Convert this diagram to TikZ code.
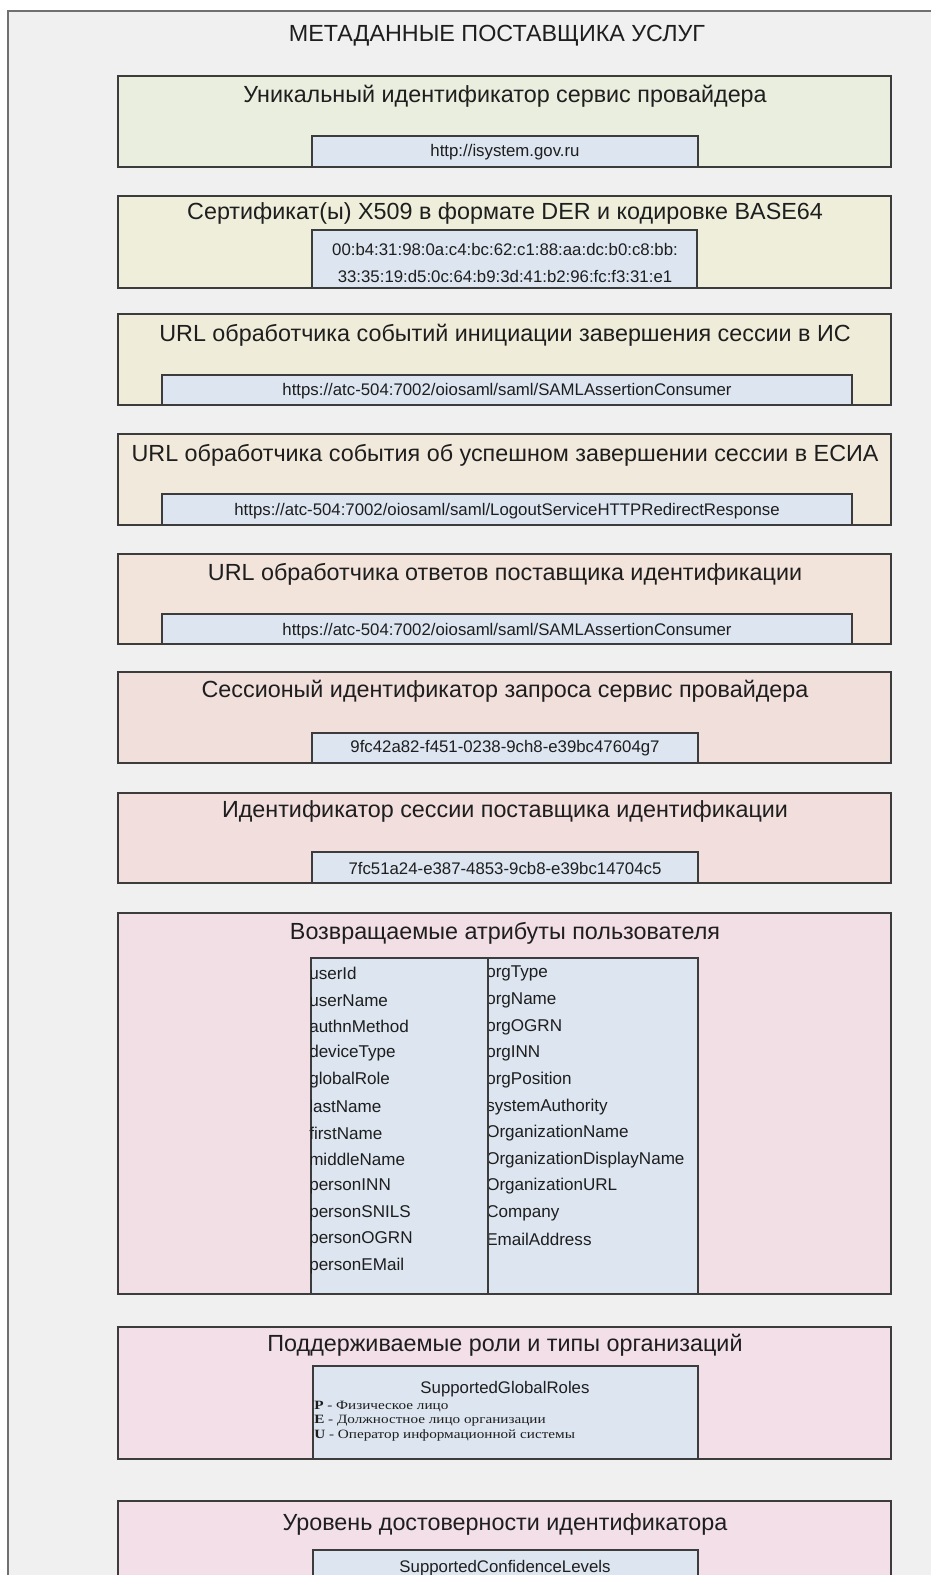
\documentclass[tikz,border=0pt]{standalone}
\usepackage{fontspec}
\setmainfont{Liberation Sans}
\newfontfamily\timesfont{Liberation Serif}
\usepackage{tikz}
\usetikzlibrary{positioning,fit}
\usepackage{xcolor}
\definecolor{fback}{HTML}{F0F0F0}
\definecolor{fline}{HTML}{707070}
\definecolor{bline}{HTML}{3C3C3C}
\definecolor{vfill}{HTML}{DCE5F0}
\definecolor{ink}{HTML}{1E1E1E}
\definecolor{gA}{HTML}{EAEEDF}
\definecolor{gB}{HTML}{EEEEDB}
\definecolor{gC}{HTML}{EFECDA}
\definecolor{gD}{HTML}{F1E9DB}
\definecolor{gE}{HTML}{F2E3DB}
\definecolor{gF}{HTML}{F1DFDC}
\definecolor{gG}{HTML}{F1DEDD}
\definecolor{gH}{HTML}{F2DEE5}
\definecolor{gI}{HTML}{F2DFE8}
\tikzset{
  grp/.style   = {draw=bline, line width=1.1pt, inner sep=0pt},
  vbox/.style  = {draw=bline, line width=1.1pt, fill=vfill, inner sep=0pt},
  ttl/.style   = {text=ink, inner sep=0pt, font=\fontsize{17.5}{20}\selectfont},
  vtxt/.style  = {text=ink, inner sep=0pt, font=\fontsize{12.6}{15}\selectfont},
  item/.style  = {text=ink, inner sep=0pt, anchor=west, font=\fontsize{12.8}{15}\selectfont},
  role/.style  = {text=ink, inner sep=0pt, anchor=west, font=\fontsize{9.5}{11}\timesfont},
}

\begin{document}
\begin{tikzpicture}[x=0.75pt, y=-0.75pt]
\useasboundingbox (0,0) rectangle (931,1575);
\fill[white] (0,0) rectangle (931,1575);
\draw[fline, line width=1.5pt, fill=fback] (8,11) rectangle (980,1620);
\node[ttl] (head) at (497,36) {МЕТАДАННЫЕ ПОСТАВЩИКА УСЛУГ};
% ---- service provider id ----
\node[grp, fill=gA, fit={(118,76) (891,167)}] (b1) {};
\node[ttl] (t1) at (505,96) {Уникальный идентификатор сервис провайдера};
\node[vbox, fit={(312,136) (698,167)}] (v1) {};
\node[vtxt] at (505,152) {http://isystem.gov.ru};
% ---- certificates ----
\node[grp, fill=gB, fit={(118,196) (891,288)}] (b2) {};
\node[ttl] (t2) at (505,213) {Сертификат(ы) X509 в формате DER и кодировке BASE64};
\node[vbox, fit={(312,230) (697,288)}] (v2) {};
\node[vtxt] (c1) at (505,249) {00:b4:31:98:0a:c4:bc:62:c1:88:aa:dc:b0:c8:bb:};
\node[vtxt] (c2) at (505,276) {33:35:19:d5:0c:64:b9:3d:41:b2:96:fc:f3:31:e1};
% ---- logout initiation ----
\node[grp, fill=gC, fit={(118,314) (891,405)}] (b3) {};
\node[ttl] (t3) at (505,335) {URL обработчика событий инициации завершения сессии в ИС};
\node[vbox, fit={(162,375) (852,405)}] (v3) {};
\node[vtxt] at (507,391) {https://atc-504:7002/oiosaml/saml/SAMLAssertionConsumer};
% ---- logout response ----
\node[grp, fill=gD, fit={(118,434) (891,525)}] (b4) {};
\node[ttl] (t4) at (505,455) {URL обработчика события об успешном завершении сессии в ЕСИА};
\node[vbox, fit={(162,494) (852,525)}] (v4) {};
\node[vtxt] at (507,511) {https://atc-504:7002/oiosaml/saml/LogoutServiceHTTPRedirectResponse};
% ---- assertion consumer ----
\node[grp, fill=gE, fit={(118,554) (891,644)}] (b5) {};
\node[ttl] (t5) at (505,574) {URL обработчика ответов поставщика идентификации};
\node[vbox, fit={(162,614) (852,644)}] (v5) {};
\node[vtxt] at (507,631) {https://atc-504:7002/oiosaml/saml/SAMLAssertionConsumer};
% ---- request session id ----
\node[grp, fill=gF, fit={(118,672) (891,763)}] (b6) {};
\node[ttl] (t6) at (505,691) {Сессионый идентификатор запроса сервис провайдера};
\node[vbox, fit={(312,733) (698,763)}] (v6) {};
\node[vtxt] at (505,748) {9fc42a82-f451-0238-9ch8-e39bc47604g7};
% ---- idp session id ----
\node[grp, fill=gG, fit={(118,793) (891,883)}] (b7) {};
\node[ttl] (t7) at (505,811) {Идентификатор сессии поставщика идентификации};
\node[vbox, fit={(312,852) (698,883)}] (v7) {};
\node[vtxt] at (505,868) {7fc51a24-e387-4853-9cb8-e39bc14704c5};
% ---- returned attributes ----
\node[grp, fill=gH, fit={(118,913) (891,1294)}] (b8) {};
\node[ttl] (t8) at (505,933) {Возвращаемые атрибуты пользователя};
\node[vbox, fit={(311,958) (698,1294)}] (v8) {};
\foreach \a [count=\i] in {userId,userName,authnMethod,deviceType,globalRole,lastName,
    firstName,middleName,personINN,personSNILS,personOGRN,personEMail}
  \node[item] (l\i) at (309,{947+26.6*\i}) {\a};
\foreach \a [count=\i] in {orgType,orgName,orgOGRN,orgINN,orgPosition,systemAuthority,
    OrganizationName,OrganizationDisplayName,OrganizationURL,Company,EmailAddress}
  \node[item] (r\i) at (486,{947+26.6*\i}) {\a};
\draw[bline, line width=1.1pt] (v8.north west) -- (v8.south west);
\coordinate (dtop) at (488,958);
\coordinate (dbot) at (488,1294);
\draw[bline, line width=1.1pt] (dtop) -- (dbot);
% ---- roles ----
\node[grp, fill=gI, fit={(118,1327) (891,1459)}] (b9) {};
\node[ttl] (t9) at (505,1345) {Поддерживаемые роли и типы организаций};
\node[vbox, fit={(313,1366) (698,1459)}] (v9) {};
\node[vtxt] (sgr) at (505,1389) {SupportedGlobalRoles};
\node[role] (p1) at (314,1407) {\scalebox{1.2}[1]{\textbf{P} - Физическое лицо}};
\node[role] (p2) at (314,1421) {\scalebox{1.2}[1]{\textbf{E} - Должностное лицо организации}};
\node[role] (p3) at (314,1435) {\scalebox{1.2}[1]{\textbf{U} - Оператор информационной системы}};
% ---- confidence levels ----
\node[grp, fill=gI, fit={(118,1501) (891,1620)}] (b10) {};
\node[ttl] (t10) at (505,1524) {Уровень достоверности идентификатора};
\node[vbox, fit={(313,1550) (698,1620)}] (v10) {};
\node[vtxt] (scl) at (505,1568) {SupportedConfidenceLevels};
\end{tikzpicture}
\end{document}
